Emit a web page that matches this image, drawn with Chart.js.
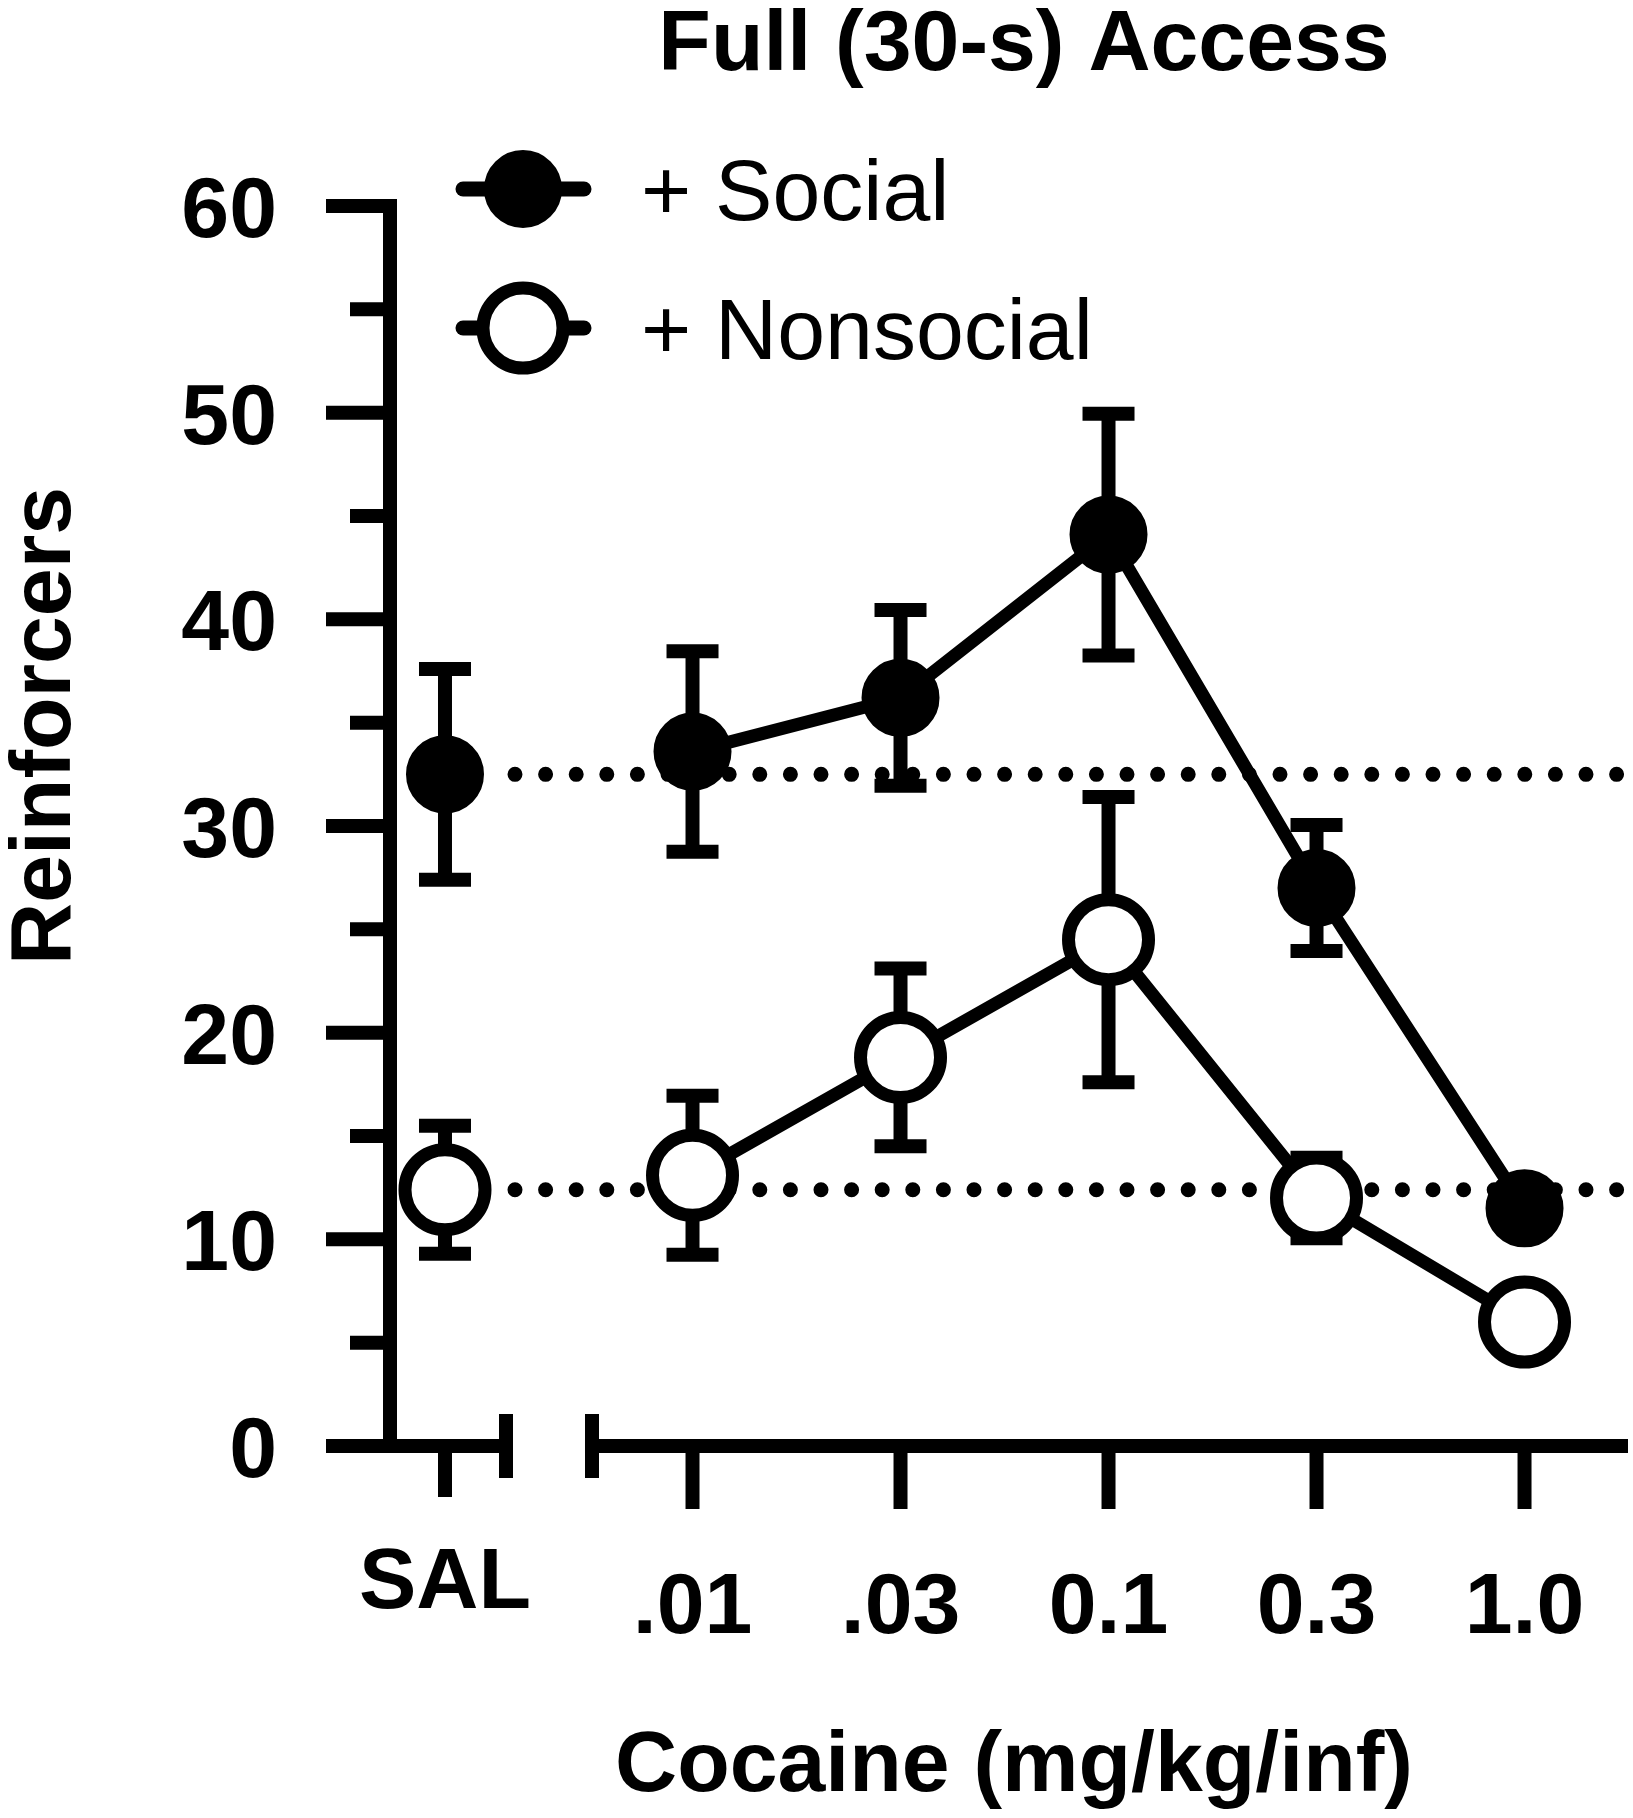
<!DOCTYPE html>
<html>
<head>
<meta charset="utf-8">
<script src="https://cdn.jsdelivr.net/npm/chart.js@4.4.0/dist/chart.umd.min.js"></script>
<style>
  html, body { margin: 0; padding: 0; background: #fff; }
  canvas { display: block; }
</style>
</head>
<body>
<canvas id="doseChart" width="1633" height="1818"></canvas>
<script>
const doseLabels = ['SAL', '.01', '.03', '0.1', '0.3', '1.0'];
const socialMean = [32.5, 33.6, 36.2, 44.1, 27.0, 11.5];
const socialSem = [5.1, 4.85, 4.25, 5.85, 3.05, 1.0];
const nonsocialMean = [12.4, 13.1, 18.8, 24.5, 12.0, 6.0];
const nonsocialSem = [3.1, 3.85, 4.3, 6.9, 1.95, 1.0];
const yTicks = [0, 10, 20, 30, 40, 50, 60];
const yMinorTicks = [5, 15, 25, 35, 45, 55];

const FONT = '"Liberation Sans", Arial, sans-serif';

// saline sits left of the axis break, doses right of it
const BREAK_GAP = 0.19;
const xPos = i => (i === 0 ? 0 : i + BREAK_GAP);

const toPoints = means => means.map((v, i) => ({ x: xPos(i), y: v }));

// first segment (SAL -> .01) is not connected
const hideFirstSegment = ctx => (ctx.p0DataIndex === 0 ? 'rgba(0,0,0,0)' : '#000');

const datasets = [
  {
    label: '+ Social',
    data: toPoints(socialMean),
    sem: socialSem,
    borderColor: '#000',
    borderWidth: 13,
    pointRadius: 33,
    pointBorderWidth: 12,
    pointBackgroundColor: '#000',
    pointBorderColor: '#000',
    segment: { borderColor: hideFirstSegment },
    clip: false
  },
  {
    label: '+ Nonsocial',
    data: toPoints(nonsocialMean),
    sem: nonsocialSem,
    borderColor: '#000',
    borderWidth: 13,
    pointRadius: 40,
    pointBorderWidth: 13,
    pointBackgroundColor: '#fff',
    pointBorderColor: '#000',
    segment: { borderColor: hideFirstSegment },
    clip: false
  }
];

const line = (ctx, x1, y1, x2, y2, w, cap) => {
  ctx.save();
  ctx.strokeStyle = '#000';
  ctx.lineWidth = w;
  ctx.lineCap = cap || 'butt';
  ctx.beginPath();
  ctx.moveTo(x1, y1);
  ctx.lineTo(x2, y2);
  ctx.stroke();
  ctx.restore();
};

// axes, dotted saline reference lines and error bars (under the markers)
const underlay = {
  id: 'underlay',
  beforeDatasetsDraw(chart) {
    const { ctx, chartArea, scales: { x, y } } = chart;
    const ax = chartArea.left;
    const ay = y.getPixelForValue(0);
    const salX = x.getPixelForValue(xPos(0));

    // y axis
    line(ctx, ax, y.getPixelForValue(60) - 7, ax, ay + 7, 14);
    yTicks.forEach(t => { if (t > 0) line(ctx, ax - 64, y.getPixelForValue(t), ax + 7, y.getPixelForValue(t), 14); });
    yMinorTicks.forEach(t => line(ctx, ax - 40, y.getPixelForValue(t), ax + 7, y.getPixelForValue(t), 14));

    // broken x axis
    const leftCap = salX + 61;
    const rightCap = salX + 147;
    line(ctx, ax - 64, ay, leftCap + 7, ay, 14);
    line(ctx, leftCap, ay - 32, leftCap, ay + 32, 14);
    line(ctx, salX, ay, salX, ay + 51, 14);
    line(ctx, rightCap - 7, ay, chartArea.right, ay, 14);
    line(ctx, rightCap, ay - 32, rightCap, ay + 32, 14);
    for (let i = 1; i < doseLabels.length; i++) {
      const px = x.getPixelForValue(xPos(i));
      line(ctx, px, ay, px, ay + 63, 14);
    }

    // dotted lines at the saline means
    [socialMean[0], nonsocialMean[0]].forEach(v => {
      const py = y.getPixelForValue(v);
      ctx.save();
      ctx.strokeStyle = '#000';
      ctx.lineWidth = 15;
      ctx.lineCap = 'round';
      ctx.setLineDash([0, 30.6]);
      ctx.beginPath();
      ctx.moveTo(salX + 70, py);
      ctx.lineTo(chartArea.right, py);
      ctx.stroke();
      ctx.restore();
    });

    // error bars
    chart.data.datasets.forEach(ds => {
      ds.data.forEach((p, i) => {
        const px = x.getPixelForValue(p.x);
        const top = y.getPixelForValue(p.y + ds.sem[i]);
        const bot = y.getPixelForValue(p.y - ds.sem[i]);
        line(ctx, px, top, px, bot, 14);
        line(ctx, px - 26, top, px + 26, top, 14);
        line(ctx, px - 26, bot, px + 26, bot, 14);
      });
    });
  }
};

// tick labels, titles and legend
const labels = {
  id: 'labels',
  afterDraw(chart) {
    const { ctx, chartArea, scales: { x, y } } = chart;
    ctx.save();
    ctx.fillStyle = '#000';
    ctx.textBaseline = 'alphabetic';

    ctx.font = 'bold 86px ' + FONT;
    ctx.textAlign = 'right';
    yTicks.forEach(t => ctx.fillText(String(t), chartArea.left - 113, y.getPixelForValue(t) + 31));

    ctx.textAlign = 'center';
    doseLabels.forEach((lab, i) => {
      const px = x.getPixelForValue(xPos(i));
      ctx.fillText(lab, px, i === 0 ? 1608 : 1633);
    });

    ctx.fillText('Full (30-s) Access', 1024, 70);
    ctx.fillText('Cocaine (mg/kg/inf)', 1014, 1791);

    ctx.save();
    ctx.translate(70, 726);
    ctx.rotate(-Math.PI / 2);
    ctx.fillText('Reinforcers', 0, 0);
    ctx.restore();

    // legend
    const rows = [189, 328];
    ctx.font = '86px ' + FONT;
    ctx.textAlign = 'left';
    chart.data.datasets.forEach((ds, k) => {
      const ly = rows[k];
      line(ctx, 463, ly, 584, ly, 15, 'round');
      ctx.beginPath();
      ctx.arc(523, ly, ds.pointRadius, 0, Math.PI * 2);
      ctx.fillStyle = ds.pointBackgroundColor;
      ctx.fill();
      ctx.lineWidth = ds.pointBorderWidth;
      ctx.strokeStyle = ds.pointBorderColor;
      ctx.stroke();
      ctx.fillStyle = '#000';
      ctx.fillText(ds.label, 641, ly + 31);
    });
    ctx.restore();
  }
};

new Chart(document.getElementById('doseChart'), {
  type: 'line',
  data: { datasets },
  options: {
    responsive: false,
    animation: false,
    devicePixelRatio: 1,
    layout: { autoPadding: false, padding: { left: 390, right: 5, top: 206, bottom: 372 } },
    plugins: { legend: { display: false }, tooltip: { enabled: false }, title: { display: false } },
    scales: {
      x: { type: 'linear', min: -0.2644, max: 5.6875, display: false },
      y: { min: 0, max: 60, display: false }
    }
  },
  plugins: [underlay, labels]
});
</script>
</body>
</html>
